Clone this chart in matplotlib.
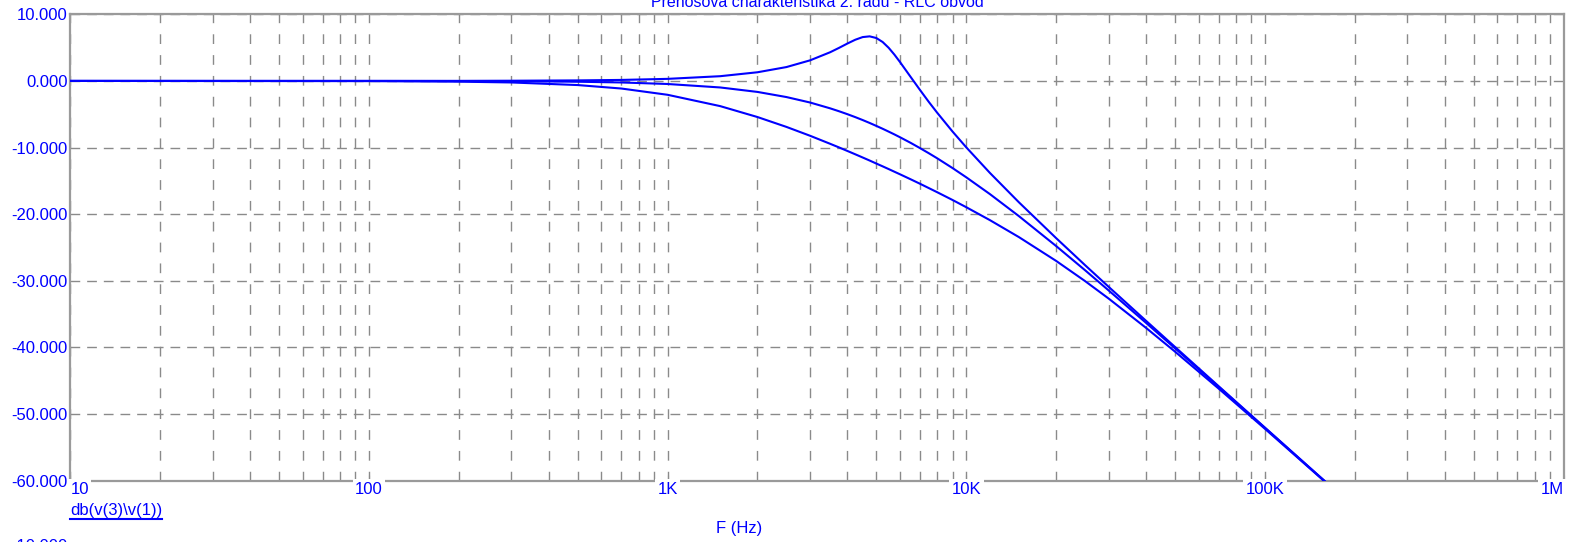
import matplotlib
matplotlib.use("Agg")
import matplotlib.pyplot as plt
from matplotlib.ticker import LogLocator, NullFormatter, FormatStrFormatter
from matplotlib.lines import Line2D
import numpy as np

plt.rcParams['font.family'] = ['Liberation Sans', 'DejaVu Sans']

# frequency points (Hz)
freq = [10, 100, 200, 300, 500, 700, 1000, 1500, 2000, 2500, 3000, 3500, 3750,
        4000, 4250, 4500, 4750, 5000, 5250, 5500, 5750, 6000, 6500, 7000, 7500,
        8000, 9000, 10000, 12000, 15000, 20000, 25000, 30000, 40000, 50000,
        70000, 100000, 160000]

# gain in dB, three damping cases
db_peak = [0.0, 0.0, 0.01, 0.03, 0.08, 0.15, 0.31, 0.71, 1.30, 2.08, 3.09, 4.30, 4.96,
           5.61, 6.18, 6.58, 6.69, 6.44, 5.84, 4.97, 3.94, 2.84, 0.66, -1.35, -3.17,
           -4.79, -7.60, -9.96, -13.80, -18.20, -23.59, -27.65, -30.91, -36.00, -39.92,
           -45.81, -52.02, -60.20]
db_mid = [0.0, 0.0, -0.02, -0.04, -0.12, -0.23, -0.46, -0.98, -1.65, -2.42, -3.24, -4.11, -4.55,
          -4.99, -5.43, -5.87, -6.31, -6.75, -7.18, -7.61, -8.03, -8.45, -9.27, -10.08, -10.86,
          -11.62, -13.08, -14.46, -16.98, -20.28, -24.78, -28.41, -31.45, -36.31, -40.12,
          -45.91, -52.07, -60.22]
db_low = [0.0, -0.03, -0.11, -0.23, -0.62, -1.14, -2.08, -3.78, -5.42, -6.90, -8.23, -9.43, -9.98,
          -10.51, -11.01, -11.49, -11.95, -12.40, -12.82, -13.23, -13.63, -14.01, -14.74, -15.43, -16.09,
          -16.71, -17.87, -18.95, -20.89, -23.43, -27.01, -30.04, -32.67, -37.06, -40.62,
          -46.17, -52.20, -60.27]

x_ticks = [10, 100, 1000, 10000, 100000, 1000000]
x_labels = ['10', '100', '1K', '10K', '100K', '1M']
y_ticks = [-60, -50, -40, -30, -20, -10, 0, 10]

title = 'Přenosová charakteristika 2. řádu - RLC obvod'
trace_name = 'db(v(3)\\v(1))'
blue = '#0000ff'
grey = '#8a8a8a'

W, H = 1582, 542
fig = plt.figure(figsize=(W / 100, H / 100), dpi=100)
ax = fig.add_axes([70.3 / W, 1 - 480.7 / H, (1563.5 - 70.3) / W, (480.7 - 14.3) / H])

for y in (db_peak, db_mid, db_low):
    ax.plot(freq, y, color=blue, lw=1.5, zorder=4)

ax.set_xscale('log')
ax.set_xlim(10, 1e6)
ax.set_ylim(-60, 10)

ax.xaxis.set_major_locator(LogLocator(base=10))
ax.xaxis.set_minor_locator(LogLocator(base=10, subs=np.arange(2, 10)))
ax.xaxis.set_minor_formatter(NullFormatter())
ax.tick_params(axis='x', which='both', direction='in', length=4, color=grey,
               labelbottom=False, top=False)

ax.set_yticks(y_ticks)
ax.yaxis.set_major_formatter(FormatStrFormatter('%.3f'))
ax.tick_params(axis='y', length=0, pad=2, labelcolor=blue, labelsize=12)

ax.grid(True, which='both', axis='x', color=grey, lw=1.0, ls=(0, (7, 8)), zorder=1)
ax.grid(True, which='major', axis='y', color=grey, lw=1.0, ls=(0, (7, 5)), zorder=1)

for s in ax.spines.values():
    s.set_color('#9a9a9a')
    s.set_linewidth(1.6)

# x tick labels sit in gaps of the bottom axis line
trans = ax.get_xaxis_transform()
for i, (f, lab) in enumerate(zip(x_ticks, x_labels)):
    ha = 'center'
    if i == 0:
        ha = 'left'
    elif i == len(x_ticks) - 1:
        ha = 'right'
    ax.text(f, -0.018, lab, transform=trans, ha=ha, va='center', color=blue,
            fontsize=12, clip_on=False, zorder=5,
            bbox=dict(boxstyle='square,pad=0.15', fc='white', ec='none'))

fig.text(0.5 * (70.3 + 1563.5) / W, 1 - 7 / H, title, ha='center', va='baseline',
         color=blue, fontsize=11.5)
fig.text(739 / W, 1 - 529 / H, 'F (Hz)', ha='center', va='center', color=blue, fontsize=12)
tn = fig.text(70 / W, 1 - 510 / H, trace_name, ha='left', va='center', color=blue, fontsize=12)
fig.text(68 / W, 1 - 539 / H, '-10.000', ha='right', va='top', color=blue, fontsize=12)

fig.canvas.draw()
bb = tn.get_window_extent()
fig.add_artist(Line2D([bb.x0, bb.x1], [bb.y0 - 1, bb.y0 - 1], transform=None,
                      color=blue, lw=1.5))

fig.savefig('out.png', dpi=100)
